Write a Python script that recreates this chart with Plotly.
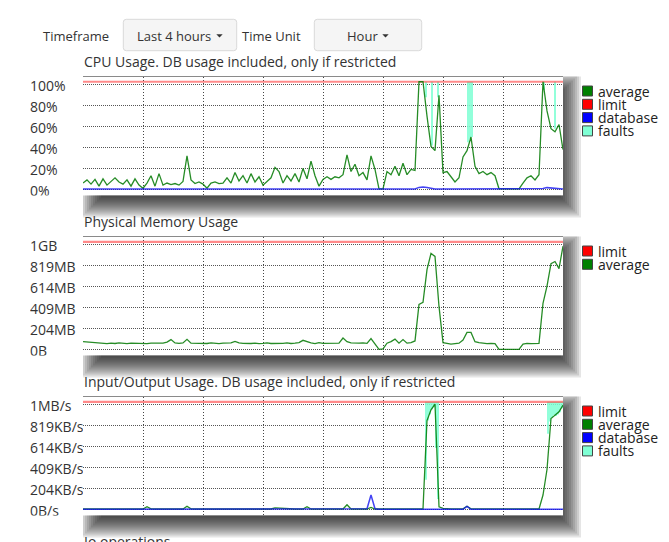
import plotly.graph_objects as go

W, H = 669, 542

# ---------------- data ----------------
# time in minutes over the "Last 4 hours" window, one sample every 2 minutes
T_MIN = list(range(0, 241, 2))

CPU_AVG = [
    6, 9, 5, 9.5, 3, 10, 4, 8, 11, 7, 5, 9, 3, 10, 4, 1, 6, 13, 3, 15,
    4, 6, 4.5, 5.5, 4, 7.5, 32, 9, 5.5, 7, 5, 1, 6, 7, 5.5, 6, 11, 6, 16, 8,
    13, 6, 15, 7, 12, 4, 8, 11, 21, 17, 6, 13, 8, 15, 7, 20, 10, 27, 13, 3,
    9.5, 12, 9.5, 12, 11, 14, 33, 17, 24, 13, 16, 9, 32, 19, 0.5, 0.5, 17, 14, 22, 13,
    25, 14, 19, 18, 102.9, 102.9, 70, 41, 37, 90, 16, 17, 12, 7, 11, 31, 37, 50, 22, 15,
    17, 14, 16, 13, 0.5, 0.5, 0.5, 0.5, 0.5, 0.5, 6, 11, 13, 9, 14, 102.9, 75, 58, 55, 62,
    38,
]
CPU_DB = [
    0.3, 0.3, 0.3, 0.3, 0.3, 0.3, 0.3, 0.3, 0.3, 0.3, 0.3, 0.3, 0.3, 0.3, 0.3, 0.3, 0.3, 0.3, 0.3, 0.3,
    0.3, 0.3, 0.3, 0.3, 0.3, 0.3, 0.3, 0.3, 0.3, 0.3, 0.3, 0.3, 0.3, 0.3, 0.3, 0.3, 0.3, 0.3, 0.3, 0.3,
    0.3, 0.3, 0.3, 0.3, 0.3, 0.3, 0.3, 0.3, 0.3, 0.3, 0.3, 0.3, 0.3, 0.3, 0.3, 0.3, 0.3, 0.3, 0.3, 0.3,
    0.3, 0.3, 0.3, 0.3, 0.3, 0.3, 0.3, 0.3, 0.3, 0.3, 0.3, 0.3, 0.3, 0.3, 0.3, 0.3, 0.3, 0.3, 0.3, 0.3,
    0.3, 0.3, 0.3, 0.3, 1.8, 2.2, 1.8, 0.8, 0.3, 0.3, 0.3, 0.3, 0.3, 0.3, 0.3, 0.3, 0.3, 0.3, 0.3, 0.3,
    0.3, 0.3, 0.3, 0.3, 0.3, 0.3, 0.3, 0.3, 0.3, 0.3, 0.3, 0.3, 0.3, 0.3, 0.3, 0.8, 1.6, 1.4, 0.8, 0.3,
    0.3,
]
CPU_LIMIT = 102.9
CPU_FAULT_T = [171.5, 174.5, 177.5, 192.5, 193.5, 194.5, 230.5, 236.0]
CPU_FAULT_BASE = [88, 42, 88, 45, 48, 50, 95, 58]

MEM_AVG = [
    75, 72, 66, 60, 63, 58, 55, 60, 57, 62, 58, 56, 60, 58, 62, 57, 55, 60, 58, 63,
    60, 70, 95, 62, 58, 62, 98, 60, 58, 55, 60, 57, 62, 58, 56, 60, 58, 62, 78, 62,
    58, 55, 57, 60, 55, 58, 62, 57, 55, 60, 58, 62, 57, 60, 65, 88, 72, 62, 55, 65,
    58, 60, 57, 62, 60, 110, 75, 62, 58, 60, 62, 58, 105, 55, 0, 5, 60, 75, 100, 60,
    95, 60, 65, 82, 440, 460, 780, 940, 910, 420, 65, 58, 50, 55, 60, 90, 165, 165, 75, 65,
    60, 55, 58, 55, 0, 0, 0, 0, 0, 0, 50, 58, 55, 55, 58, 450, 620, 840, 860, 790,
    1010,
]
MEM_LIMIT = 1053

IO_AVG = [
    3, 3, 2, 3, 3, 2, 3, 3, 2, 3, 3, 3, 2, 3, 3, 3, 26, 4, 3, 3,
    3, 3, 3, 3, 3, 3, 30, 4, 3, 3, 3, 3, 3, 3, 3, 3, 3, 3, 3, 3,
    3, 3, 3, 3, 3, 3, 3, 3, 14, 12, 3, 3, 3, 3, 3, 3, 25, 3, 3, 3,
    3, 3, 3, 3, 3, 3, 45, 3, 3, 3, 3, 3, 18, 3, 3, 3, 3, 3, 8, 6,
    3, 3, 3, 3, 3, 3, 870, 975, 1030, 25, 10, 4, 4, 4, 4, 4, 30, 5, 5, 5,
    7, 4, 8, 4, 3, 3, 3, 3, 3, 3, 3, 3, 3, 3, 3, 140, 390, 890, 925, 955,
    1020,
]
IO_DB = [
    0, 0, 0, 0, 0, 0, 0, 0, 0, 0, 0, 0, 0, 0, 0, 0, 0, 0, 0, 0,
    0, 0, 0, 0, 0, 0, 0, 0, 0, 0, 0, 0, 0, 0, 0, 0, 0, 0, 0, 0,
    0, 0, 0, 0, 0, 0, 0, 0, 0, 0, 0, 0, 0, 0, 0, 0, 0, 0, 0, 0,
    0, 0, 0, 0, 0, 0, 0, 0, 0, 0, 0, 5, 140, 5, 0, 0, 0, 0, 0, 0,
    0, 0, 0, 0, 0, 0, 0, 0, 0, 0, 0, 0, 0, 0, 0, 0, 28, 0, 0, 0,
    0, 0, 0, 0, 0, 0, 0, 0, 0, 0, 0, 0, 0, 0, 0, 0, 0, 0, 0, 0,
    0,
]
IO_LIMIT = 1053
IO_FAULT_T = [171.5, 172.5, 173.5, 174.5, 175.5, 176.5, 177.5,
              232.5, 233.5, 234.5, 235.5, 236.5, 237.5, 238.5, 239.5]
IO_FAULT_BASE = [290, 870, 930, 980, 1000, 600, 100,
                 740, 860, 900, 925, 915, 930, 950, 990]

CPU_TICKS = [0, 20, 40, 60, 80, 100]
CPU_TICK_TEXT = ["0%", "20%", "40%", "60%", "80%", "100%"]
BYTE_TICKS = [0, 204.8, 409.6, 614.4, 819.2, 1024]
MEM_TICK_TEXT = ["0B", "204MB", "409MB", "614MB", "819MB", "1GB"]
IO_TICK_TEXT = ["0B/s", "204KB/s", "409KB/s", "614KB/s", "819KB/s", "1MB/s"]

TITLES = ["CPU Usage. DB usage included, only if restricted",
          "Physical Memory Usage",
          "Input/Output Usage. DB usage included, only if restricted"]

# ---------------- styling ----------------
GREEN = "rgba(0,120,0,0.85)"
RED_LINE = "rgba(255,60,60,0.6)"
BLUE_LINE = "rgba(20,20,240,0.8)"
FAULT = "rgba(127,255,212,0.85)"
TXT = "#333333"
FONT = "Open Sans"

PX_L, PX_R = 83, 563
PANEL_TOP = [76.5, 236.5, 396.5]
PANEL_H = 119.0
LABEL_SHIFT_PX = 3.0   # tick labels sit slightly below their gridlines


def X(px):
    return px / W


def Y(py):
    return 1 - py / H


fig = go.Figure()
shapes = []
annotations = []
layout_axes = {}


def yrange(top_val):
    return [-(6.2 / 104.5) * top_val, top_val * (1 + 8.3 / 104.5)]


def rect(x0, y0, x1, y1, **kw):
    return dict(type="rect", xref="paper", yref="paper",
                x0=X(x0), x1=X(x1), y0=Y(y1), y1=Y(y0), **kw)


panels = [
    dict(avg=CPU_AVG, db=CPU_DB, limit=CPU_LIMIT, ft=CPU_FAULT_T, fb=CPU_FAULT_BASE,
         ticks=CPU_TICKS, ticktext=CPU_TICK_TEXT, top=100,
         legend=[("average", "#008000"), ("limit", "#ff0000"),
                 ("database", "#0000ff"), ("faults", "#7fffd4")]),
    dict(avg=MEM_AVG, db=None, limit=MEM_LIMIT, ft=None, fb=None,
         ticks=BYTE_TICKS, ticktext=MEM_TICK_TEXT, top=1024,
         legend=[("limit", "#ff0000"), ("average", "#008000")]),
    dict(avg=IO_AVG, db=IO_DB, limit=IO_LIMIT, ft=IO_FAULT_T, fb=IO_FAULT_BASE,
         ticks=BYTE_TICKS, ticktext=IO_TICK_TEXT, top=1024,
         legend=[("limit", "#ff0000"), ("average", "#008000"),
                 ("database", "#0000ff"), ("faults", "#7fffd4")]),
]

for i, p in enumerate(panels):
    n = i + 1
    xa = "x" if n == 1 else f"x{n}"
    ya = "y" if n == 1 else f"y{n}"
    T = PANEL_TOP[i]
    B = T + PANEL_H
    rng = yrange(p["top"])

    # faults as narrow bars from the average up to the limit
    if p["ft"]:
        fig.add_trace(go.Bar(
            x=p["ft"], base=p["fb"], y=[p["limit"] - b for b in p["fb"]],
            width=1.0, marker=dict(color=FAULT, line=dict(width=0)),
            xaxis=xa, yaxis=ya, showlegend=False, hoverinfo="skip"))
    fig.add_trace(go.Scatter(
        x=T_MIN, y=[p["limit"]] * len(T_MIN), mode="lines",
        line=dict(color=RED_LINE, width=2.2), xaxis=xa, yaxis=ya,
        showlegend=False, hoverinfo="skip"))
    fig.add_trace(go.Scatter(
        x=T_MIN, y=p["avg"], mode="lines",
        line=dict(color=GREEN, width=1.3), xaxis=xa, yaxis=ya,
        showlegend=False, hoverinfo="skip"))
    if p["db"]:
        fig.add_trace(go.Scatter(
            x=T_MIN, y=p["db"], mode="lines",
            line=dict(color=BLUE_LINE, width=1.5), xaxis=xa, yaxis=ya,
            showlegend=False, hoverinfo="skip"))

    dom_y = [Y(B), Y(T)]
    layout_axes["xaxis" if n == 1 else f"xaxis{n}"] = dict(
        domain=[X(PX_L), X(PX_R)], range=[0, 240], anchor=ya,
        showticklabels=False, ticks="", tick0=0, dtick=30,
        showgrid=True, gridcolor="#444444", gridwidth=1, griddash="1px,2px",
        zeroline=False, showline=False, fixedrange=True)
    layout_axes["yaxis" if n == 1 else f"yaxis{n}"] = dict(
        domain=dom_y, range=rng, anchor=xa,
        tickvals=p["ticks"], showticklabels=False, ticks="",
        showgrid=True, gridcolor="#555555", gridwidth=1, griddash="1px,1px",
        zeroline=False, showline=False, fixedrange=True)

    # left-aligned tick labels, clipped at the plot edge (helper subplot)
    hx = f"x{n + 3}"
    hy = f"y{n + 3}"
    per_px = (rng[1] - rng[0]) / PANEL_H
    hrng = [rng[0] + LABEL_SHIFT_PX * per_px, rng[1] + LABEL_SHIFT_PX * per_px]
    fig.add_trace(go.Scatter(
        x=[0] * len(p["ticks"]), y=p["ticks"], text=p["ticktext"],
        mode="text", textposition="middle right", cliponaxis=True,
        textfont=dict(family=FONT, size=14, color=TXT),
        xaxis=hx, yaxis=hy, showlegend=False, hoverinfo="skip"))
    layout_axes[f"xaxis{n + 3}"] = dict(domain=[X(30), X(PX_L)], range=[0, 1],
                                        anchor=hy, visible=False, fixedrange=True)
    layout_axes[f"yaxis{n + 3}"] = dict(domain=dom_y, range=hrng, anchor=hx,
                                        visible=False, fixedrange=True)

    # drop shadow (stacked translucent rectangles, kept outside the plot area)
    for e in range(-10, 15, 2):
        x0 = max(PX_L, 95 - e)
        y0 = max(T, T + 10 - e)
        x1 = PX_R + 4 + e
        y1 = B + 8 + e
        if x1 > PX_R:
            shapes.append(rect(PX_R, y0, x1, y1, fillcolor="rgba(0,0,0,0.1)",
                               line=dict(width=0), layer="below"))
        if y1 > B:
            shapes.append(rect(x0, B, min(x1, PX_R), y1, fillcolor="rgba(0,0,0,0.1)",
                               line=dict(width=0), layer="below"))
    # top border
    shapes.append(dict(type="line", xref="paper", yref="paper",
                       x0=X(PX_L), x1=X(PX_R), y0=Y(T), y1=Y(T),
                       line=dict(color="#8a8a8a", width=1), layer="above"))

    # title
    annotations.append(dict(text=TITLES[i], xref="paper", yref="paper",
                            x=X(82), y=Y(T - 15), xanchor="left", yanchor="middle",
                            showarrow=False, font=dict(family=FONT, size=14, color=TXT)))

    # legend
    for k, (lab, col) in enumerate(p["legend"]):
        cy = T + 14.5 + 13.3 * k
        shapes.append(rect(582.5, cy - 5, 592.5, cy + 5,
                           fillcolor=col, line=dict(color="#444444", width=1)))
        annotations.append(dict(text=lab, xref="paper", yref="paper",
                                x=X(596), y=Y(cy), xanchor="left", yanchor="middle",
                                showarrow=False,
                                font=dict(family=FONT, size=14, color="#222222")))

# "Io operations" title of the next (cut-off) panel
annotations.append(dict(text="Io operations", xref="paper", yref="paper",
                        x=X(82), y=Y(541.5), xanchor="left", yanchor="middle",
                        showarrow=False, font=dict(family=FONT, size=14, color=TXT)))


# ---------------- top controls ----------------
def rrect(x0, y0, x1, y1, r):
    rx, ry = r / W, r / H
    a0, a1 = X(x0), X(x1)
    b0, b1 = Y(y0), Y(y1)  # b0 top (larger), b1 bottom
    return (f"M {a0 + rx},{b0} L {a1 - rx},{b0} Q {a1},{b0} {a1},{b0 - ry} "
            f"L {a1},{b1 + ry} Q {a1},{b1} {a1 - rx},{b1} L {a0 + rx},{b1} "
            f"Q {a0},{b1} {a0},{b1 + ry} L {a0},{b0 - ry} Q {a0},{b0} {a0 + rx},{b0} Z")


for (bx0, bx1, cx) in [(123.3, 236.7, 219.5), (314.3, 421.7, 385.5)]:
    shapes.append(dict(type="path", xref="paper", yref="paper",
                       path=rrect(bx0, 19.3, bx1, 50.7, 3),
                       fillcolor="#f5f5f5", line=dict(color="#d9d9d9", width=1)))
    shapes.append(dict(type="path", xref="paper", yref="paper",
                       path=f"M {X(cx - 3.2)},{Y(34.2)} L {X(cx + 3.2)},{Y(34.2)} L {X(cx)},{Y(37.6)} Z",
                       fillcolor="#333333", line=dict(width=0)))

for txt, x0 in [("Timeframe", 41), ("Last 4 hours", 134.5), ("Time Unit", 240), ("Hour", 344.5)]:
    annotations.append(dict(text=txt, xref="paper", yref="paper", x=X(x0), y=Y(36),
                            xanchor="left", yanchor="middle", showarrow=False,
                            font=dict(family=FONT, size=13, color=TXT)))

fig.update_layout(
    width=W, height=H, margin=dict(l=0, r=0, t=0, b=0),
    paper_bgcolor="white", plot_bgcolor="white",
    showlegend=False, hovermode=False, barmode="overlay",
    font=dict(family=FONT, color=TXT),
    shapes=shapes, annotations=annotations,
    **layout_axes,
)

fig.write_html("out.html", config={"displayModeBar": False},
               post_script="document.body.style.margin='0';document.body.style.overflow='hidden';")
